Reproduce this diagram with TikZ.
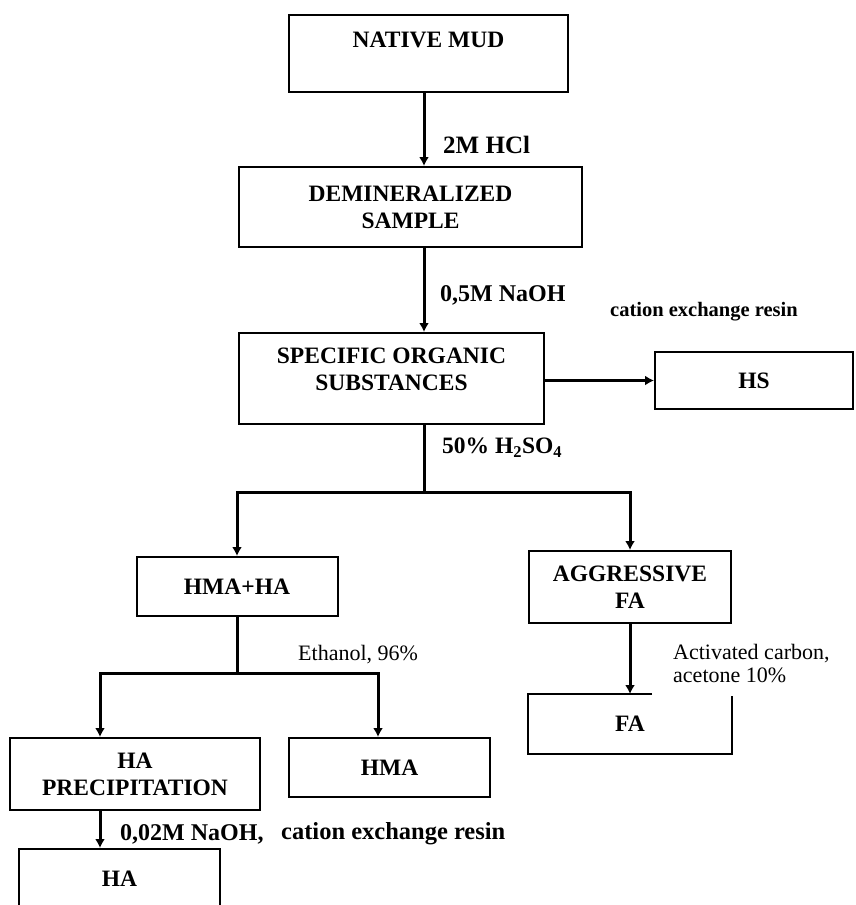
\documentclass[tikz,border=0pt]{standalone}
\usepackage{fontspec}
\setmainfont{Liberation Serif}
\usetikzlibrary{arrows.meta}
\newcommand{\boxfont}{\bfseries\fontsize{23.5}{27}\selectfont}
\newcommand{\notefont}{\fontsize{22}{23}\selectfont}

\begin{document}
\begin{tikzpicture}[x=1pt, y=-1pt,
  box/.style={draw, line width=2pt, inner sep=0pt, align=center, font=\boxfont},
  flow/.style={line width=3pt, -{Latex[length=9pt,width=10pt]}},
  link/.style={line width=3pt},
  note/.style={anchor=west, inner sep=0pt, font=\notefont\bfseries},
  plain/.style={anchor=west, inner sep=0pt, font=\notefont, align=left}]
  \useasboundingbox (0,0) rectangle (855,905);

  % Main column
  \node[box, minimum width=279, minimum height=77, text height=32.5pt, text depth=44.5pt] (mud) at (428.5,53.5) {NATIVE MUD};
  \node[box, minimum width=343, minimum height=80] (demin) at (410.5,207) {DEMINERALIZED\\SAMPLE};
  \node[box, minimum width=305, minimum height=91, text height=57.5pt, text depth=33.5pt] (organic) at (391.5,378.5) {SPECIFIC ORGANIC\\SUBSTANCES};
  \node[box, minimum width=198, minimum height=57] (hs) at (754,380.5) {HS};

  % Second level
  \node[box, minimum width=201, minimum height=59] (hmaha) at (237,586.5) {HMA+HA};
  \node[box, minimum width=202, minimum height=72] (aggr) at (630,587) {AGGRESSIVE\\FA};
  \node[box, draw=none, minimum width=202, minimum height=58] (fa) at (630,724) {FA};
  \draw[line width=2pt] ([xshift=124pt]fa.north west) -- (fa.north west) -- (fa.south west)
    -- (fa.south east) -- ([yshift=-2pt]fa.north east);

  % Third level
  \node[box, minimum width=250, minimum height=72] (haprec) at (135,774) {HA\\PRECIPITATION};
  \node[box, minimum width=201, minimum height=59] (hma) at (389.5,767.5) {HMA};
  \node[box, minimum width=201, minimum height=60] (ha) at (119.5,879) {HA};

  % Branch points
  \coordinate (trunk) at (424,492);
  \coordinate (fork) at (237,673);
  \coordinate (lcol) at (100,673);
  \coordinate (rcol) at (378,673);

  % Connectors
  \draw[flow] (mud.south -| trunk) -- (demin.north -| trunk);
  \draw[flow] (demin.south -| trunk) -- (organic.north -| trunk);
  \draw[flow] (organic.east |- hs.west) -- (hs.west);
  \draw[link] (organic.south -| trunk) -- (trunk);
  \draw[flow] (trunk) -| (hmaha.north);
  \draw[flow] (trunk) -| (aggr.north);
  \draw[flow] (aggr.south) -- (fa.north);
  \draw[link] (hmaha.south) -- (fork);
  \draw[flow] (fork) -| (haprec.north -| lcol);
  \draw[flow] (fork) -| (hma.north -| rcol);
  \draw[flow] (haprec.south -| lcol) -- (ha.north -| lcol);

  % Reagents
  \node[note, font=\bfseries\fontsize{25}{27}\selectfont] (hcl) at (443,145) {2M HCl};
  \node[note, font=\bfseries\fontsize{24}{27}\selectfont] (naoh) at (440,295) {0,5M NaOH};
  \node[note, font=\bfseries\fontsize{20.5}{23}\selectfont] (resin) at (610,312) {cation exchange resin};
  \node[note, font=\bfseries\fontsize{23.5}{27}\selectfont] (acid) at (442,448) {50\% H\textsubscript{2}SO\textsubscript{4}};
  \node[plain] (ethanol) at (298,655) {Ethanol, 96\%};
  \node[plain] (carbon) at (673,664) {Activated carbon,\\acetone 10\%};
  \node[note, font=\bfseries\fontsize{24}{27}\selectfont] (naoh2) at (120,834) {0,02M NaOH,};
  \node[note, font=\bfseries\fontsize{24.5}{27}\selectfont] (resin2) at (281,834) {cation exchange resin};
\end{tikzpicture}
\end{document}
